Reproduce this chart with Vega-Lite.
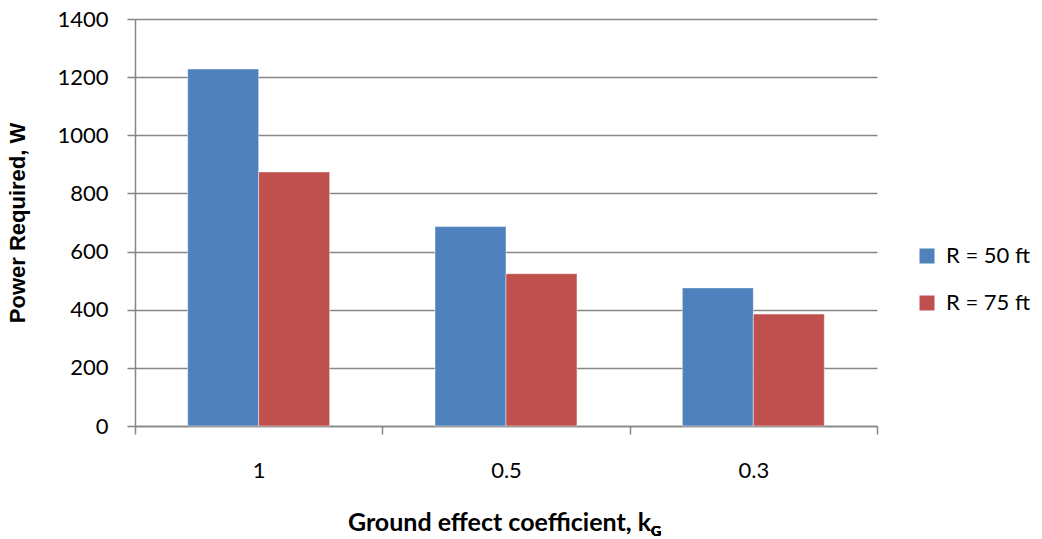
{
  "$schema": "https://vega.github.io/schema/vega-lite/v6.json",
  "width": 742,
  "height": 407,
  "autosize": "none",
  "padding": {"left": 135, "top": 19, "right": 165, "bottom": 113},
  "background": "white",
  "data": {
    "values": [
      {"k": "1", "series": "R = 50 ft", "power": 1228},
      {"k": "1", "series": "R = 75 ft", "power": 874},
      {"k": "0.5", "series": "R = 50 ft", "power": 686},
      {"k": "0.5", "series": "R = 75 ft", "power": 524},
      {"k": "0.3", "series": "R = 50 ft", "power": 475},
      {"k": "0.3", "series": "R = 75 ft", "power": 385}
    ]
  },
  "config": {
    "font": "Lato",
    "view": {"stroke": null},
    "axis": {"labelFont": "Lato", "titleFont": "Lato", "labelColor": "#000000", "titleColor": "#000000"}
  },
  "layer": [
    {
      "mark": {"type": "bar", "stroke": "#ffffff", "strokeOpacity": 0.45, "strokeWidth": 1},
      "encoding": {
        "x": {
          "field": "k",
          "type": "nominal",
          "sort": ["1", "0.5", "0.3"],
          "scale": {"paddingInner": 0, "paddingOuter": 0},
          "axis": {
            "title": "Ground effect coefficient, k",
            "titleFontSize": 25,
            "titleFontWeight": "bold",
            "titlePadding": 29,
            "titleX": 364,
            "labelAngle": 0,
            "labelFontSize": 22,
            "labelPadding": 26,
            "tickBand": "extent",
            "tickSize": 8,
            "tickColor": "#868686",
            "domainColor": "#868686",
            "tickWidth": 1.5,
            "domainWidth": 1.5
          }
        },
        "xOffset": {"field": "series", "type": "nominal", "scale": {"paddingInner": 0, "paddingOuter": 0.742}},
        "y": {
          "field": "power",
          "type": "quantitative",
          "scale": {"domain": [0, 1400], "nice": false},
          "axis": {
            "title": "Power Required, W",
            "titleFont": "Liberation Sans",
            "titleFontSize": 22,
            "titleFontWeight": "bold",
            "titlePadding": 27,
            "format": "d",
            "values": [0, 200, 400, 600, 800, 1000, 1200, 1400],
            "labelFontSize": 22,
            "labelPadding": 19,
            "tickSize": 8,
            "tickColor": "#868686",
            "domainColor": "#868686",
            "gridColor": "#868686",
            "gridWidth": 1.5,
            "tickWidth": 1.5,
            "domainWidth": 1.5
          }
        },
        "color": {
          "field": "series",
          "type": "nominal",
          "scale": {"domain": ["R = 50 ft", "R = 75 ft"], "range": ["#4F81BD", "#C0504D"]},
          "legend": {
            "title": null,
            "orient": "none",
            "legendX": 781,
            "legendY": 226,
            "symbolType": "square",
            "symbolSize": 225,
            "symbolStrokeWidth": 0,
            "labelFontSize": 22,
            "labelFont": "Lato",
            "labelColor": "#000000",
            "labelOffset": 8,
            "rowPadding": 25
          }
        }
      }
    },
    {
      "mark": {"type": "text", "text": "G", "font": "Lato", "fontWeight": "bold", "fontSize": 14, "align": "left", "dx": 145, "dy": 106, "color": "#000000"},
      "encoding": {
        "x": {"datum": "0.5", "type": "nominal"},
        "y": {"datum": 0, "type": "quantitative"}
      }
    }
  ]
}
